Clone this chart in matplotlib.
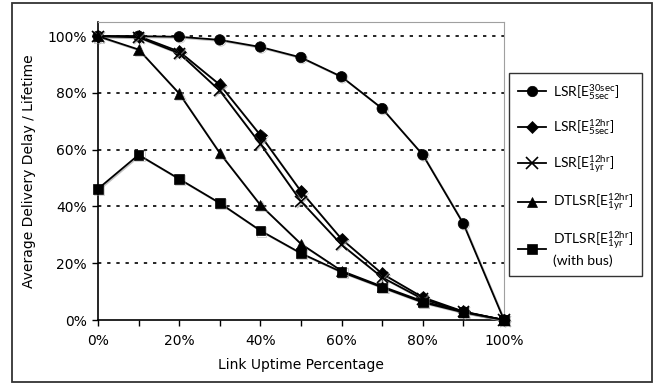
import matplotlib
matplotlib.use('Agg')
import matplotlib.pyplot as plt
import matplotlib.patheffects as pe
from matplotlib.patches import Rectangle
from matplotlib.ticker import MultipleLocator, FuncFormatter

plt.rcParams['font.family'] = ['DejaVu Sans']
plt.rcParams['mathtext.default'] = 'regular'

# link uptime (fraction)
uptime = [0.0, 0.1, 0.2, 0.3, 0.4, 0.5, 0.6, 0.7, 0.8, 0.9, 1.0]

lsr_30sec_5sec = [1.000, 1.000, 0.998, 0.987, 0.962, 0.925, 0.857, 0.745, 0.582, 0.339, 0.0]
lsr_12hr_5sec = [1.000, 1.000, 0.946, 0.829, 0.651, 0.453, 0.285, 0.163, 0.080, 0.030, 0.0]
lsr_12hr_1yr = [1.000, 0.996, 0.940, 0.808, 0.620, 0.418, 0.265, 0.150, 0.074, 0.029, 0.0]
dtlsr_12hr_1yr = [1.000, 0.953, 0.798, 0.588, 0.405, 0.268, 0.173, 0.118, 0.066, 0.028, 0.0]
dtlsr_bus = [0.462, 0.582, 0.497, 0.412, 0.315, 0.235, 0.169, 0.115, 0.062, 0.027, 0.0]

series = [
    (lsr_30sec_5sec, 'o', 7.5, r'LSR[E$^{30sec}_{5sec}$]'),
    (lsr_12hr_5sec, 'D', 6.5, r'LSR[E$^{12hr}_{5sec}$]'),
    (lsr_12hr_1yr, 'x', 8, r'LSR[E$^{12hr}_{1yr}$]'),
    (dtlsr_12hr_1yr, '^', 7.5, r'DTLSR[E$^{12hr}_{1yr}$]'),
    (dtlsr_bus, 's', 7, 'DTLSR[E$^{12hr}_{1yr}$]\n(with bus)'),
]

fig = plt.figure(figsize=(6.59, 3.85), dpi=100)
ax = fig.add_axes([98 / 659, 65 / 385, 406 / 659, 298 / 385])

shadow = [pe.SimpleLineShadow(offset=(0.8, -0.8), shadow_color='0.6', alpha=0.6), pe.Normal()]
for vals, mk, ms, lab in series:
    ax.plot(uptime, vals, color='black', lw=1.3, marker=mk, markersize=ms,
            markeredgewidth=1.2 if mk == 'x' else 0.5, label=lab, clip_on=False,
            path_effects=shadow, zorder=3)

ax.set_xlim(0, 1)
ax.set_ylim(0, 1.05)
ax.xaxis.set_major_locator(MultipleLocator(0.2))
ax.xaxis.set_minor_locator(MultipleLocator(0.1))
ax.yaxis.set_major_locator(MultipleLocator(0.2))
pct = FuncFormatter(lambda v, p: '%d%%' % round(v * 100))
ax.xaxis.set_major_formatter(pct)
ax.yaxis.set_major_formatter(pct)
ax.tick_params(axis='both', which='both', direction='out', length=4, width=1, labelsize=10, color='black')
ax.tick_params(axis='x', which='major', pad=6)
ax.tick_params(axis='y', which='major', pad=4)

for y in [0.2, 0.4, 0.6, 0.8, 1.0]:
    ax.axhline(y, color='black', lw=1.2, linestyle=(0, (2, 3.5)), zorder=1)

ax.spines['left'].set_color('black')
ax.spines['bottom'].set_color('black')
ax.spines['left'].set_linewidth(1.2)
ax.spines['bottom'].set_linewidth(1.2)
ax.spines['top'].set_color('#a0a0a0')
ax.spines['right'].set_color('#a0a0a0')

ax.set_xlabel('Link Uptime Percentage', fontsize=10, labelpad=7)
ax.set_ylabel('Average Delivery Delay / Lifetime', fontsize=10, labelpad=8)

leg = fig.legend(loc='upper left', bbox_to_anchor=(509 / 659, 1 - 73 / 385),
                 frameon=True, fancybox=False, edgecolor='black',
                 prop={'family': 'Lato', 'size': 10},
                 labelspacing=1.15, handlelength=2.0, borderpad=0.65,
                 handletextpad=0.5, borderaxespad=0)
leg.get_frame().set_linewidth(1.0)
for h in leg.legend_handles:
    h.set_path_effects([])

# outer frame around the whole chart
fig.patches.append(Rectangle((12 / 659, 3 / 385), 640 / 659, 379 / 385,
                             transform=fig.transFigure, fill=False,
                             edgecolor='#333333', lw=1.3))

fig.savefig('out.png', dpi=100)
